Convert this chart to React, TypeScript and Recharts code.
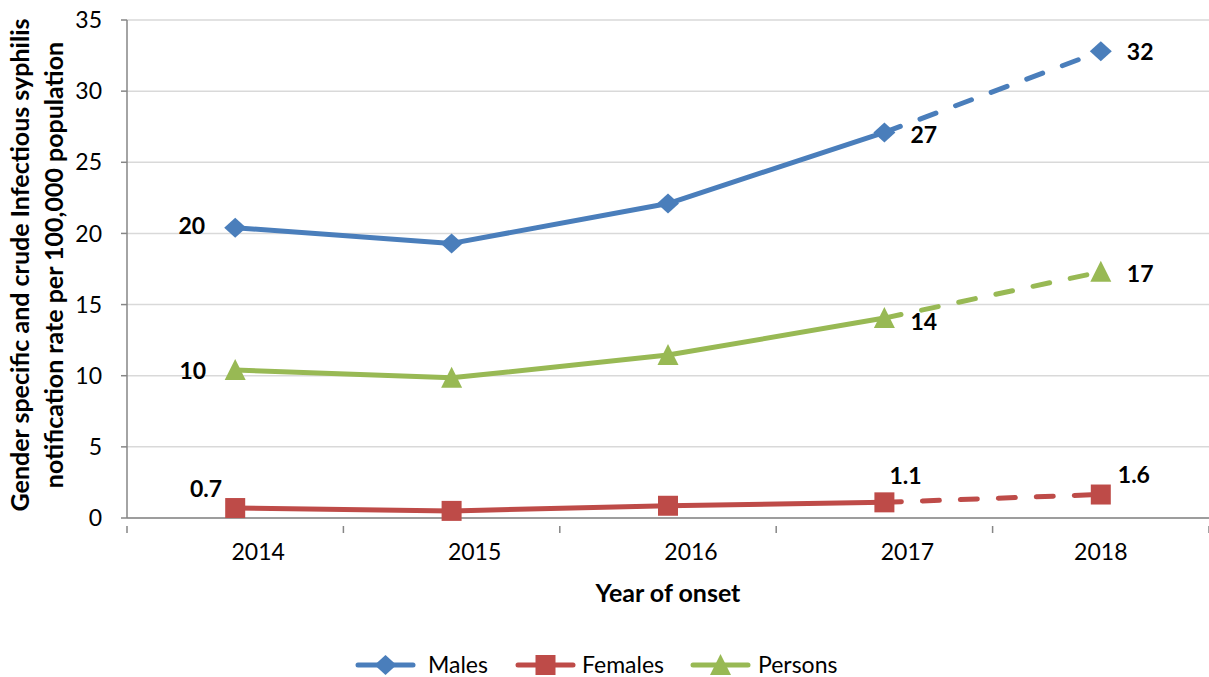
import React from 'react'
import { LineChart, Line, XAxis, YAxis, CartesianGrid, Legend } from 'recharts'

const years = ['2014', '2015', '2016', '2017', '2018']
const males = [20.4, 19.3, 22.1, 27.1, 32.8]
const females = [0.7, 0.5, 0.86, 1.1, 1.65]
const persons = [10.4, 9.85, 11.45, 14.05, 17.3]
const maleLabels = ['20', '', '', '27', '32']
const femaleLabels = ['0.7', '', '', '1.1', '1.6']
const personLabels = ['10', '', '', '14', '17']
const yTicks = [0, 5, 10, 15, 20, 25, 30, 35]

const FONT = 'Lato, "Liberation Sans", sans-serif'
const BLUE = '#4A7EBB'
const RED = '#BE4B48'
const GREEN = '#98B954'
const SOLID_END = 3

const data = years.map((year, i) => ({
	year,
	m: i <= SOLID_END ? males[i] : null,
	mDash: i >= SOLID_END ? males[i] : null,
	f: i <= SOLID_END ? females[i] : null,
	fDash: i >= SOLID_END ? females[i] : null,
	p: i <= SOLID_END ? persons[i] : null,
	pDash: i >= SOLID_END ? persons[i] : null,
}))

// label placement, relative to the point [dx, dy, anchor]
const labelPos: Record<string, [number, number, string][]> = {
	m: [[-30, -3, 'end'], [0, 0, 'start'], [0, 0, 'start'], [26, 2, 'start'], [26, 0, 'start']],
	p: [[-29, 0, 'end'], [0, 0, 'start'], [0, 0, 'start'], [26, 3, 'start'], [26, 1, 'start']],
	f: [[-13, -20, 'end'], [0, 0, 'start'], [0, 0, 'start'], [5, -27, 'start'], [17, -21, 'start']],
}
const labelText: Record<string, string[]> = { m: maleLabels, f: femaleLabels, p: personLabels }

const Marker = ({ kind, x, y, color }: { kind: string; x: number; y: number; color: string }) => {
	if (kind === 'm')
		return <path d={`M${x},${y - 10}L${x + 11},${y}L${x},${y + 10}L${x - 11},${y}Z`} fill={color} />
	if (kind === 'f') return <rect x={x - 10} y={y - 10} width={20} height={20} fill={color} />
	return <path d={`M${x},${y - 11}L${x + 10.5},${y + 10}L${x - 10.5},${y + 10}Z`} fill={color} />
}

const makeDot = (kind: string, color: string, from: number, to: number) => (props: any) => {
	const { cx, cy, index } = props
	if (cx == null || cy == null || index < from || index > to) return <g key={`${kind}-${index}`} />
	const text = labelText[kind][index]
	const [dx, dy, anchor] = labelPos[kind][index]
	return (
		<g key={`${kind}-${index}`}>
			<Marker kind={kind} x={cx} y={cy} color={color} />
			{text && (
				<text
					x={cx + dx}
					y={cy + dy}
					textAnchor={anchor as any}
					dominantBaseline="central"
					fontFamily={FONT}
					fontWeight="bold"
					fontSize={23}
					fill="#000">
					{text}
				</text>
			)}
		</g>
	)
}

const HALF_BAND = (1209 - 127) / 5 / 2

const XTick = (props: any) => {
	const { x, y, payload, index } = props
	// labels sit a bit right of the band centre except the last one
	const shift = index === years.length - 1 ? 0 : 23
	return (
		<g>
			<line x1={x - HALF_BAND} x2={x - HALF_BAND} y1={y} y2={y + 7} stroke="#868686" strokeWidth={1.5} />
			{index === years.length - 1 && (
				<line x1={x + HALF_BAND} x2={x + HALF_BAND} y1={y} y2={y + 7} stroke="#868686" strokeWidth={1.5} />
			)}
			<text x={x + shift} y={551} textAnchor="middle" dominantBaseline="central" fontFamily={FONT} fontSize={23} fill="#000">
				{payload.value}
			</text>
		</g>
	)
}

const YTitle = () => {
	const cy = 265
	return (
		<g fontFamily={FONT} fontWeight="bold" fontSize={25} fill="#000">
			<text x={29} y={cy} textAnchor="middle" transform={`rotate(-90 29 ${cy})`}>
				Gender specific and crude Infectious syphilis
			</text>
			<text x={63} y={cy} textAnchor="middle" transform={`rotate(-90 63 ${cy})`}>
				notification rate per 100,000 population
			</text>
		</g>
	)
}

const XTitle = () => (
	<text x={668} y={592} textAnchor="middle" dominantBaseline="central" fontFamily={FONT} fontWeight="bold" fontSize={25} fill="#000">
		Year of onset
	</text>
)

const legendItems = [
	{ kind: 'm', name: 'Males', color: BLUE },
	{ kind: 'f', name: 'Females', color: RED },
	{ kind: 'p', name: 'Persons', color: GREEN },
]
const legendLineX = [358, 518, 693]
const legendTextX = [428, 582, 758]
const LEGEND_H = 80
const LEGEND_Y = 665 - (677 - LEGEND_H)

const LegendContent = () => (
	<svg width={1209} height={LEGEND_H} style={{ display: 'block', overflow: 'visible' }}>
		{legendItems.map((it, i) => {
			const x0 = legendLineX[i]
			return (
				<g key={it.name}>
					<line x1={x0} x2={x0 + 55} y1={LEGEND_Y} y2={LEGEND_Y} stroke={it.color} strokeWidth={5} strokeLinecap="round" />
					<Marker kind={it.kind} x={x0 + 27.5} y={LEGEND_Y} color={it.color} />
					<text x={legendTextX[i]} y={LEGEND_Y + 8} fontFamily={FONT} fontSize={23} fill="#000">
						{it.name}
					</text>
				</g>
			)
		})}
	</svg>
)

export default function App() {
	const series = [
		{ key: 'm', color: BLUE },
		{ key: 'f', color: RED },
		{ key: 'p', color: GREEN },
	]
	return (
		<div style={{ position: 'absolute', left: 0, top: 0, background: '#fff' }}>
			<LineChart width={1209} height={677} data={data} margin={{ top: 20, right: 0, bottom: 0, left: 0 }}>
				<CartesianGrid vertical={false} stroke="#D9D9D9" strokeWidth={1.5} />
				<XAxis
					dataKey="year"
					height={159 - LEGEND_H}
					stroke="#868686"
					strokeWidth={1.5}
					tickLine={false}
					tick={<XTick />}
					interval={0}
					padding={{ left: HALF_BAND, right: HALF_BAND }}
					label={<XTitle />}
				/>
				<YAxis
					width={127}
					domain={[0, 35]}
					ticks={yTicks}
					interval={0}
					stroke="#868686"
					strokeWidth={1.5}
					tickSize={6}
					tickMargin={19}
					tick={{ fontFamily: FONT, fontSize: 23, fill: '#000' }}
					label={<YTitle />}
				/>
				{series.map((s) => (
					<Line
						key={s.key}
						dataKey={s.key}
						stroke={s.color}
						strokeWidth={5}
						strokeLinejoin="round"
						isAnimationActive={false}
						dot={makeDot(s.key, s.color, 0, SOLID_END)}
						activeDot={false}
					/>
				))}
				{series.map((s) => (
					<Line
						key={s.key + 'Dash'}
						dataKey={s.key + 'Dash'}
						stroke={s.color}
						strokeWidth={5}
						strokeDasharray="17 21"
						strokeLinecap="round"
						isAnimationActive={false}
						dot={makeDot(s.key, s.color, SOLID_END + 1, years.length - 1)}
						activeDot={false}
					/>
				))}
				<Legend verticalAlign="bottom" height={LEGEND_H} content={<LegendContent />} />
			</LineChart>
		</div>
	)
}
